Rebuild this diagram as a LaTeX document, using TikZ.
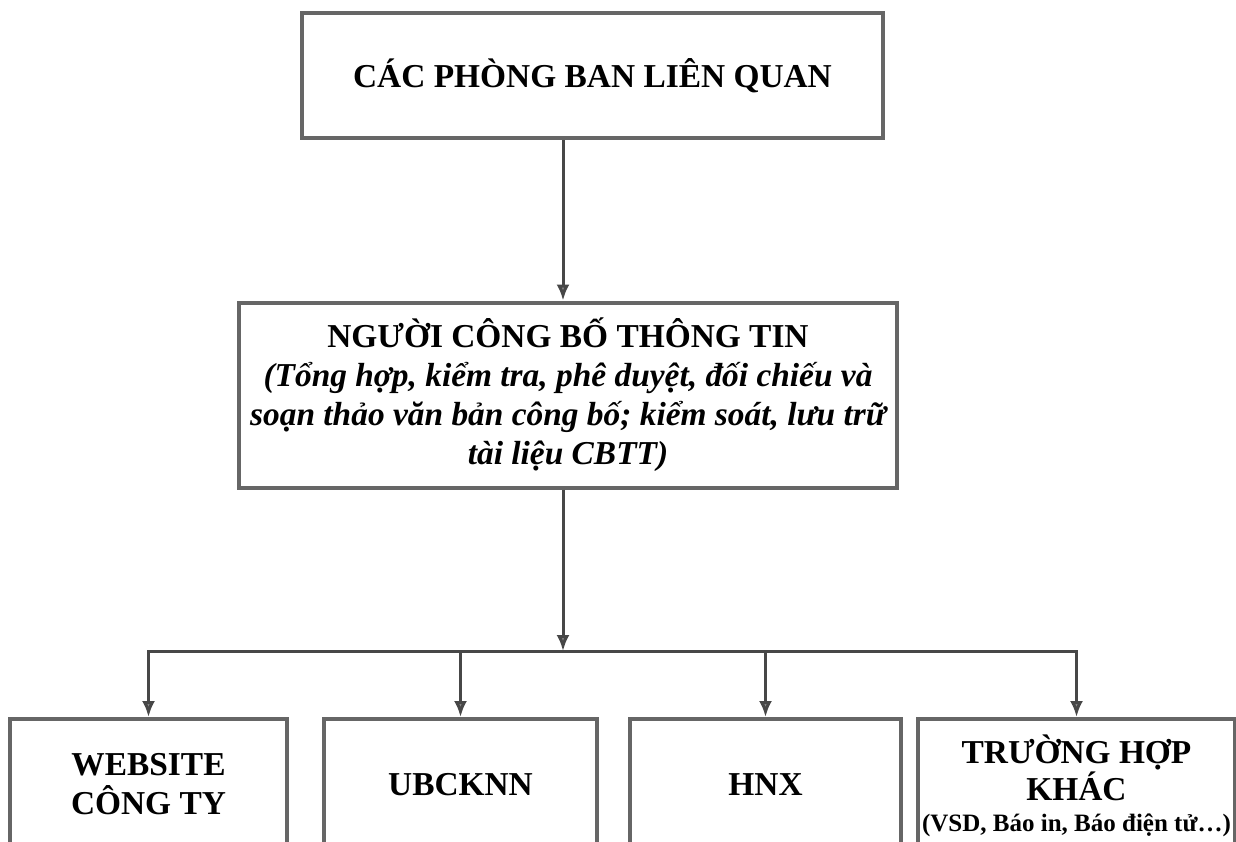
\documentclass[tikz,border=0pt]{standalone}
\usepackage{fontspec}
\setmainfont{Liberation Serif}
\usetikzlibrary{arrows.meta}
\definecolor{boxgray}{gray}{0.4}
\definecolor{linegray}{gray}{0.28}
\begin{document}
\begin{tikzpicture}[x=0.5pt, y=-0.5pt]
	\clip (0,0) rectangle (1236,841);
	\begin{scope}[every node/.style={draw=boxgray, line width=2pt, align=center, inner sep=0pt,
			font=\fontsize{16.7}{19.5}\selectfont\bfseries}]
		\node[minimum width=290.5pt, minimum height=62.5pt] (ban) at (592.5,75.5) {CÁC PHÒNG BAN LIÊN QUAN};
		\node[minimum width=329pt, minimum height=92.5pt] (cbtt) at (568,395) {NGƯỜI CÔNG BỐ THÔNG TIN\\
			\itshape (Tổng hợp, kiểm tra, phê duyệt, đối chiếu và\\
			\itshape soạn thảo văn bản công bố; kiểm soát, lưu trữ\\
			\itshape tài liệu CBTT)};
	\end{scope}
	\begin{scope}[every node/.style={draw=boxgray, line width=2pt, align=center, inner sep=0pt, anchor=north,
			font=\fontsize{16.7}{19.5}\selectfont\bfseries}]
		\node[minimum width=138.5pt, minimum height=65pt] (web) at (148.5,717) {WEBSITE\\ CÔNG TY};
		\node[minimum width=136.5pt, minimum height=66pt] (ubc) at (460.5,717) {UBCKNN};
		\node[minimum width=135.5pt, minimum height=66pt] (hnx) at (765.5,717) {HNX};
		\node[minimum width=158.5pt, minimum height=67pt, font=\fontsize{16.7}{17.5}\selectfont\bfseries] (khac) at (1076.5,717) {TRƯỜNG HỢP\\ KHÁC\\[-2pt]
			\fontsize{12.5}{17.5}\selectfont (VSD, Báo in, Báo điện tử…)};
	\end{scope}
	\coordinate (hub) at (563,651);
	\draw[draw=linegray, line width=1.5pt, line cap=rect] (hub -| web) -- (hub -| khac);
	\begin{scope}[every edge/.style={draw=linegray, line width=1.5pt, -{Latex[length=8pt, width=6.5pt, fill=black!45]}}]
		\path (ban.south -| hub) edge (cbtt.north -| hub);
		\path (cbtt.south -| hub) edge (hub);
		\path (hub -| web) edge (web.north);
		\path (hub -| ubc) edge (ubc.north);
		\path (hub -| hnx) edge (hnx.north);
		\path (hub -| khac) edge (khac.north);
	\end{scope}
\end{tikzpicture}
\end{document}
